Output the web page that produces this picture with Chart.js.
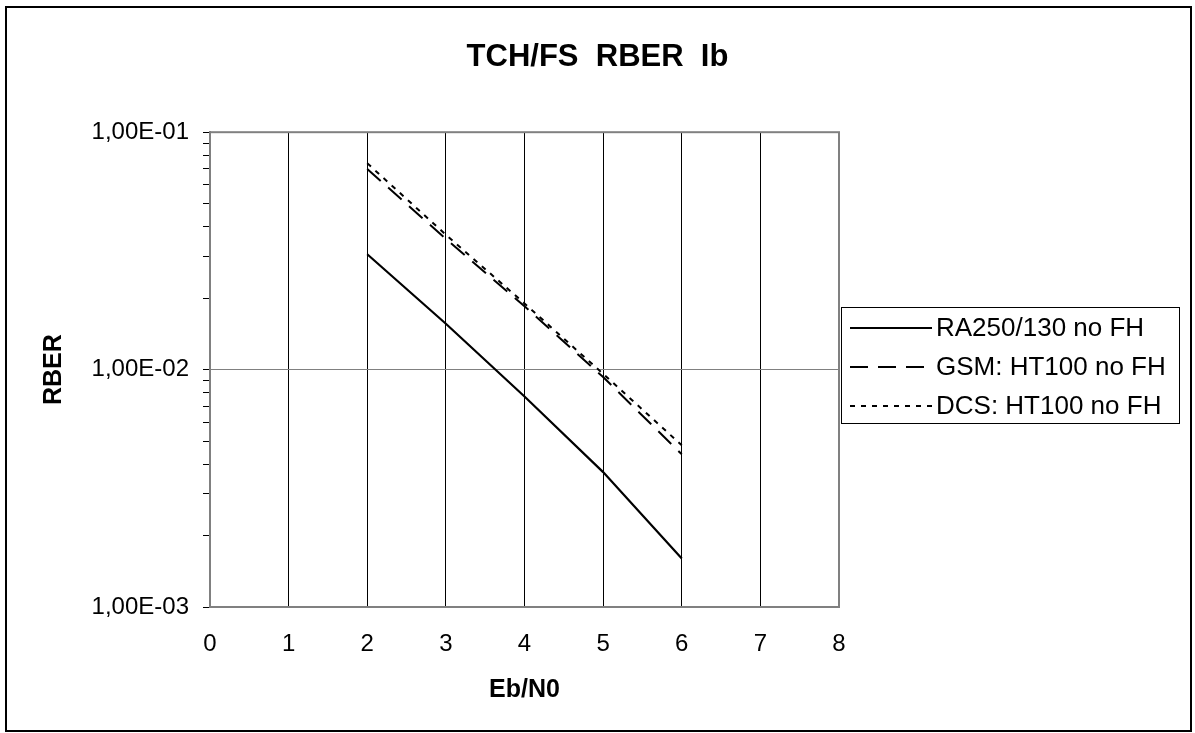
<!DOCTYPE html>
<html>
<head>
<meta charset="UTF-8">
<title>TCH/FS RBER Ib</title>
<script src="https://cdn.jsdelivr.net/npm/chart.js@4/dist/chart.umd.min.js"></script>
<style>
  html, body { margin: 0; padding: 0; background: #fff; }
  canvas { display: block; }
</style>
</head>
<body>
<canvas id="rberChart" width="1195" height="733"></canvas>
<script>
// Datos
const ebN0 = [2, 3, 4, 5, 6];
const ra250 = [0.0306, 0.0156, 0.0077, 0.0037, 0.0016];
const gsmHt100 = [0.0700, 0.0355, 0.0185, 0.0093, 0.0044];
const dcsHt100 = [0.0740, 0.0370, 0.0190, 0.0096, 0.0048];
const seriesNames = ['RA250/130 no FH', 'GSM: HT100 no FH', 'DCS: HT100 no FH'];
const yMajorValues = [0.001, 0.01, 0.1];
const yMajorLabels = ['1,00E-03', '1,00E-02', '1,00E-01'];
const xTicks = [0, 1, 2, 3, 4, 5, 6, 7, 8];

const FONT = "'Liberation Sans', Arial, sans-serif";
const toPoints = (ys) => ebN0.map((x, i) => ({ x: x, y: ys[i] }));

// marcas menores de la escala logarítmica
const yAllTicks = [];
for (let e = -3; e < -1; e++) {
  for (let m = 1; m < 10; m++) yAllTicks.push(m * Math.pow(10, e));
}
yAllTicks.push(0.1);
const isMajor = (v) => yMajorValues.some(m => Math.abs(v - m) / m < 1e-6);

// fondo, marco exterior, borde del área y leyenda
const framePlugin = {
  id: 'frame',
  beforeDraw(chart) {
    const ctx = chart.ctx;
    ctx.save();
    ctx.fillStyle = '#fff';
    ctx.fillRect(0, 0, chart.width, chart.height);
    ctx.strokeStyle = '#000';
    ctx.lineWidth = 2;
    ctx.strokeRect(6, 7, 1185, 724);
    ctx.restore();
  },
  afterDatasetsDraw(chart) {
    const { ctx, chartArea: a } = chart;
    ctx.save();
    ctx.strokeStyle = '#808080';
    ctx.lineWidth = 2;
    ctx.strokeRect(a.left, a.top, a.right - a.left, a.bottom - a.top);

    // leyenda
    const box = { x: 841, y: 307, w: 338, h: 116 };
    ctx.strokeStyle = '#000';
    ctx.lineWidth = 1;
    ctx.strokeRect(box.x + 0.5, box.y + 0.5, box.w, box.h);
    const rows = [328, 367, 406];
    ctx.font = '26px ' + FONT;
    ctx.textBaseline = 'middle';
    ctx.fillStyle = '#000';
    chart.data.datasets.forEach((ds, i) => {
      ctx.beginPath();
      ctx.lineWidth = 2;
      ctx.setLineDash(ds.borderDash || []);
      ctx.moveTo(850, rows[i]);
      ctx.lineTo(932, rows[i]);
      ctx.stroke();
      ctx.setLineDash([]);
      ctx.fillText(ds.label, 936, rows[i] + 1);
    });
    ctx.restore();
  }
};

const ctx = document.getElementById('rberChart').getContext('2d');
new Chart(ctx, {
  type: 'line',
  data: {
    datasets: [
      { label: seriesNames[0], data: toPoints(ra250), borderColor: '#000', borderWidth: 2.2, pointRadius: 0, tension: 0 },
      { label: seriesNames[1], data: toPoints(gsmHt100), borderColor: '#000', borderWidth: 2, borderDash: [18, 10], pointRadius: 0, tension: 0 },
      { label: seriesNames[2], data: toPoints(dcsHt100), borderColor: '#000', borderWidth: 2, borderDash: [5, 6], pointRadius: 0, tension: 0 }
    ]
  },
  options: {
    responsive: false,
    animation: false,
    layout: { padding: 0 },
    plugins: {
      legend: { display: false },
      tooltip: { enabled: false },
      title: {
        display: true,
        text: 'TCH/FS  RBER  Ib',
        color: '#000',
        font: { family: FONT, size: 31, weight: 'bold' },
        padding: { top: 39, bottom: 56 }
      }
    },
    scales: {
      x: {
        type: 'linear',
        min: 0,
        max: 8,
        afterBuildTicks: (scale) => { scale.ticks = xTicks.map(v => ({ value: v })); },
        afterFit: (scale) => { scale.height = 126; },
        grid: { color: '#000', lineWidth: 1, drawTicks: false },
        border: { display: true, color: '#808080', width: 2 },
        ticks: { color: '#000', font: { family: FONT, size: 24 }, padding: 23, autoSkip: false, maxRotation: 0 },
        title: {
          display: true,
          text: 'Eb/N0',
          color: '#000',
          font: { family: FONT, size: 25, weight: 'bold' },
          padding: { top: 0, bottom: 28 }
        }
      },
      y: {
        type: 'logarithmic',
        min: 0.001,
        max: 0.1,
        afterBuildTicks: (scale) => { scale.ticks = yAllTicks.map(v => ({ value: v, major: isMajor(v) })); },
        afterFit: (scale) => { scale.width = 210; },
        grid: {
          color: (c) => (c.tick && isMajor(c.tick.value)) ? '#808080' : 'rgba(0,0,0,0)',
          tickColor: '#000',
          tickLength: 7,
          lineWidth: 1
        },
        border: { display: true, color: '#808080', width: 2 },
        ticks: {
          color: '#000',
          font: { family: FONT, size: 24 },
          padding: 14,
          autoSkip: false,
          callback: (v) => {
            const idx = yMajorValues.findIndex(m => Math.abs(v - m) / m < 1e-6);
            return idx >= 0 ? yMajorLabels[idx] : '';
          }
        },
        title: {
          display: true,
          text: 'RBER',
          color: '#000',
          font: { family: FONT, size: 25, weight: 'bold' },
          padding: { top: 39, bottom: 0 }
        }
      },
      // eje vacío a la derecha: reserva el espacio de la leyenda
      legendSpace: {
        type: 'linear',
        position: 'right',
        afterFit: (scale) => { scale.width = 356; },
        grid: { display: false },
        border: { display: false },
        ticks: { display: false }
      }
    }
  },
  plugins: [framePlugin]
});
</script>
</body>
</html>
